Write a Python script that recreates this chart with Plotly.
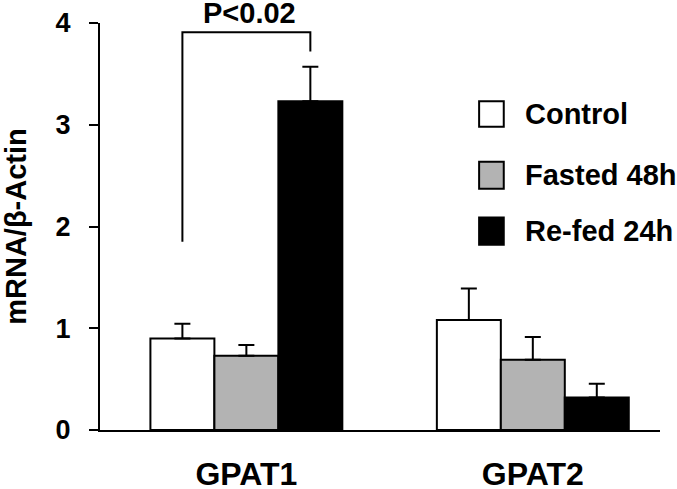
import plotly.graph_objects as go

genes = ["GPAT1", "GPAT2"]
gene_pos = [0, 1]
series = ["Control", "Fasted 48h", "Re-fed 24h"]
values = {
    "Control": [0.90, 1.08],
    "Fasted 48h": [0.73, 0.69],
    "Re-fed 24h": [3.23, 0.32],
}
errors = {
    "Control": [0.145, 0.31],
    "Fasted 48h": [0.105, 0.225],
    "Re-fed 24h": [0.34, 0.135],
}
colors = {"Control": "#ffffff", "Fasted 48h": "#b3b3b3", "Re-fed 24h": "#000000"}
y_ticks = [0, 1, 2, 3, 4]
p_text = "P<0.02"
bracket_y = [1.85, 3.91, 3.72]

FONT = "Arial, Liberation Sans, sans-serif"

fig = go.Figure()
for s in series:
    fig.add_trace(go.Bar(
        x=gene_pos, y=values[s], name=s,
        marker=dict(color=colors[s], line=dict(color="black", width=2)),
        error_y=dict(type="data", symmetric=False, array=errors[s],
                     arrayminus=[0] * len(gene_pos),
                     color="black", thickness=2, width=8),
        showlegend=False,
    ))

bar_w = (1 - 0.33) / 3
xl, xr = -bar_w, bar_w
fig.add_shape(type="path",
              path=f"M {xl},{bracket_y[0]} L {xl},{bracket_y[1]} L {xr},{bracket_y[1]} L {xr},{bracket_y[2]}",
              xref="x", yref="y", line=dict(color="black", width=2))
fig.add_annotation(x=0.01, y=1.024, xref="x", yref="paper", text=p_text, showarrow=False,
                   yanchor="middle", xanchor="center",
                   font=dict(family=FONT, size=29, color="black", weight="bold"))

# legend
leg_y = [(0.808, 0.745), (0.659, 0.593), (0.522, 0.455)]
for s, (y1, y0) in zip(series, leg_y):
    fig.add_shape(type="rect", xref="paper", yref="paper", x0=0.677, x1=0.721, y0=y0, y1=y1,
                  fillcolor=colors[s], line=dict(color="black", width=2))
    fig.add_annotation(x=0.755, y=(y0 + y1) / 2, xref="paper", yref="paper", text=s,
                       showarrow=False, xanchor="left", yanchor="middle",
                       font=dict(family=FONT, size=29, color="black", weight="bold"))

fig.update_layout(
    width=677, height=489,
    margin=dict(l=100, r=17, t=23, b=59),
    paper_bgcolor="white", plot_bgcolor="white",
    barmode="group", bargap=0.33, bargroupgap=0,
    font=dict(family=FONT, color="black"),
)
fig.update_xaxes(range=[-0.511, 1.444], tickvals=gene_pos, ticktext=genes,
                 showline=True, linecolor="black", linewidth=2, ticks="",
                 showgrid=False, zeroline=False, ticklabelstandoff=15, automargin=False,
                 tickfont=dict(family=FONT, size=32, color="black", weight="bold"))
fig.update_yaxes(range=[0, 4], tickvals=y_ticks, showline=True, linecolor="black", linewidth=2,
                 ticks="outside", ticklen=9, tickwidth=2, tickcolor="black",
                 showgrid=False, zeroline=False, ticklabelstandoff=13, automargin=False,
                 tickfont=dict(family=FONT, size=27, color="black", weight="bold"),
                 title=dict(text="mRNA/β-Actin", standoff=22,
                            font=dict(family=FONT, size=29, color="black", weight="bold")))

fig.write_html("out.html", config={"displayModeBar": False},
               post_script="document.body.style.margin='0';document.body.style.overflow='hidden';")
